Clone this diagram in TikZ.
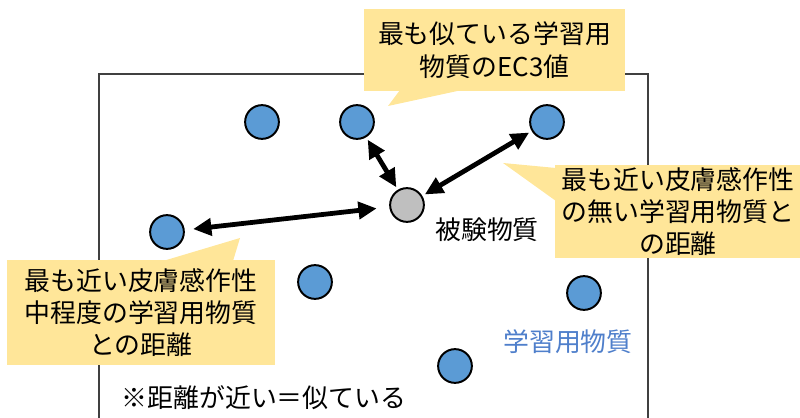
\documentclass[tikz,border=0pt]{standalone}
\usepackage{fontspec}
\newfontfamily\jp{Noto Sans CJK JP}
\usepackage{tikz}
\usetikzlibrary{arrows.meta}

\definecolor{notefill}{HTML}{FFE699}
\definecolor{sampleblue}{HTML}{5B9BD5}
\definecolor{testgray}{HTML}{BFBFBF}
\definecolor{labelblue}{HTML}{4F7FCB}

\tikzset{
  jptext/.style={font=\jp\fontsize{18.4}{23}\selectfont},
  sample/.style={circle, draw=black, line width=1.4pt, fill=sampleblue, minimum size=24pt, inner sep=0pt},
  testsample/.style={sample, fill=testgray},
  note/.style={fill=notefill, jptext, align=center, inner sep=0pt},
  pair/.style={{Triangle[length=13pt,width=12pt]}-{Triangle[length=13pt,width=12pt]}, line width=3.4pt, shorten <=2pt, shorten >=2pt}
}

\begin{document}
\begin{tikzpicture}[x=0.025cm, y=-0.025cm]
\useasboundingbox (0,0) rectangle (800,418);

% Frame
\draw[black!75, line width=0.8pt] (99,430) -- (99,74) -- (648,74) -- (648,430);

% Learning samples
\node[sample] (s1) at (262,122) {};
\node[sample] (s2) at (357,122) {};
\node[sample] (s3) at (547,122) {};
\node[sample] (s4) at (167,232) {};
\node[sample] (s5) at (315,282) {};
\node[sample] (s6) at (584,293) {};
\node[sample] (s7) at (455,366) {};

% Test sample
\node[testsample] (test) at (407,205) {};

% Distances
\draw[pair] (test) -- (s2);
\draw[pair] (test) -- (s3);
\draw[pair, shorten <=9pt, shorten >=6pt] (test) -- (s4);

% Labels
\node[jptext] (testlabel) at (487,230) {被験物質};
\node[jptext, text=labelblue] (samplelabel) at (568,342) {学習用物質};
\node[jptext] (remark) at (264,398) {※距離が近い＝似ている};

% Callouts
\fill[notefill] (400,90) -- (388,106) -- (462,90) -- cycle;
\node[note, minimum width=185.6pt, minimum height=58.3pt] (topnote) at (494.5,50) {最も似ている学習用\\物質のEC3値};

\fill[notefill] (556,168) -- (503,163) -- (556,201) -- cycle;
\node[note, minimum width=175pt, minimum height=66.2pt] (rightnote) at (678,211.5) {最も近い皮膚感作性\\の無い学習用物質と\\の距離};

\fill[notefill] (163,261) -- (240,238) -- (233,261) -- cycle;
\node[note, minimum width=190.6pt, minimum height=74.7pt] (leftnote) at (141,312.5) {最も近い皮膚感作性\\中程度の学習用物質\\との距離};

\end{tikzpicture}
\end{document}
